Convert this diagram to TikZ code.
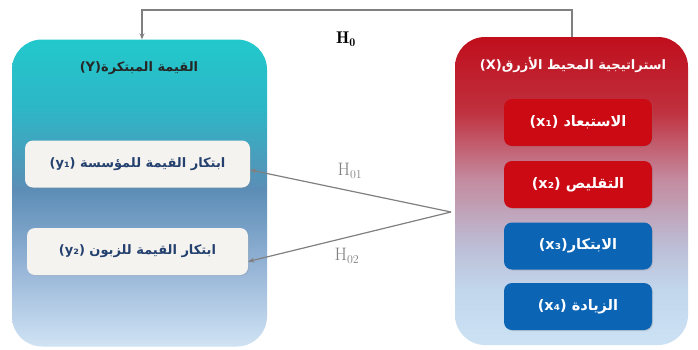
\documentclass[tikz,border=0pt]{standalone}
\usepackage{fontspec}
\usetikzlibrary{arrows.meta,calc,shadows}
\TeXXeTstate=1
\newfontfamily\arabicfont[Script=Arabic]{DejaVu Sans}
\definecolor{Lc1}{HTML}{22C8CC}
\definecolor{Lc2}{HTML}{2EB6C6}
\definecolor{Lc3}{HTML}{5C8DB6}
\definecolor{Lc4}{HTML}{98B6D8}
\definecolor{Lc5}{HTML}{D0E3F4}
\definecolor{Rc1}{HTML}{C00E1C}
\definecolor{Rc2}{HTML}{C0303E}
\definecolor{Rc3}{HTML}{C48A9E}
\definecolor{Rc4}{HTML}{BCBED6}
\definecolor{Rc5}{HTML}{C2D6EC}
\definecolor{Rc6}{HTML}{CCE2F4}
\definecolor{xred}{HTML}{CC0A14}
\definecolor{xblue}{HTML}{0B64B4}
\definecolor{ybox}{HTML}{F5F3EF}
\definecolor{ytext}{HTML}{23406E}
\definecolor{arrowgray}{HTML}{808080}
\pgfdeclareverticalshading{leftsh}{100bp}{color(0bp)=(Lc5); color(25bp)=(Lc5); color(37.5bp)=(Lc4); color(50.5bp)=(Lc3); color(63.5bp)=(Lc2); color(75bp)=(Lc1); color(100bp)=(Lc1)}
\pgfdeclareverticalshading{rightsh}{100bp}{color(0bp)=(Rc6); color(25bp)=(Rc6); color(34bp)=(Rc5); color(41bp)=(Rc4); color(52bp)=(Rc3); color(63bp)=(Rc2); color(75bp)=(Rc1); color(100bp)=(Rc1)}
\begin{document}
\begin{tikzpicture}[x=1pt,y=-1pt,
  bigbox/.style={rounded corners=30pt, minimum width=#1, inner sep=0pt},
  xbox/.style={rounded corners=8pt, fill=#1, minimum width=148pt, minimum height=47pt, inner sep=0pt,
    text=white, font=\arabicfont\bfseries\fontsize{14.5}{16}\selectfont,
    drop shadow={opacity=0.25, shadow xshift=1pt, shadow yshift=-1pt}},
  yboxst/.style={rounded corners=8pt, fill=ybox, minimum height=47pt, inner sep=0pt,
    text=ytext, font=\arabicfont\bfseries\fontsize{13}{15}\selectfont,
    drop shadow={opacity=0.2, shadow xshift=1pt, shadow yshift=-1pt}},
  titlest/.style={font=\arabicfont\bfseries\fontsize{13}{15}\selectfont, inner sep=0pt},
  conn/.style={draw=arrowgray, line width=1.2pt, -{Stealth[length=6pt,width=5pt]}},
  hlab/.style={text=arrowgray, inner sep=0pt, font=\fontsize{18}{20}\selectfont}
]
\useasboundingbox (0,0) rectangle (698,349);
\fill[white] (0,0) rectangle (698,349);
% big boxes
\node[bigbox=255pt, minimum height=307pt, shading=leftsh, shade] (Y) at (139.5,193) {};
\node[bigbox=233pt, minimum height=308pt, shading=rightsh, shade] (X) at (571.5,191) {};
% titles
\node[titlest, text=black!85] (Yt) at (139,68) {\beginR القيمة المبتكرة\beginL(Y)\endL\endR};
\node[titlest, text=white] (Xt) at (573,65) {\beginR استراتيجية المحيط الأزرق\beginL(X)\endL\endR};
% x boxes
\node[xbox=xred] (x1) at (578,122.5) {\beginR الاستبعاد \beginL(x₁)\endL\endR};
\node[xbox=xred] (x2) at (578,184.5) {\beginR التقليص \beginL(x₂)\endL\endR};
\node[xbox=xblue] (x3) at (578,246) {\beginR الابتكار\beginL(x₃)\endL\endR};
\node[xbox=xblue] (x4) at (578,306.5) {\beginR الزيادة \beginL(x₄)\endL\endR};
% y boxes
\node[yboxst, minimum width=225pt] (y1) at (137.5,164) {\beginR ابتكار القيمة للمؤسسة \beginL(y₁)\endL\endR};
\node[yboxst, minimum width=221pt] (y2) at (137.5,251.5) {\beginR ابتكار القيمة للزبون \beginL(y₂)\endL\endR};
% connectors
\coordinate (P) at (451,212);
\coordinate (Ptop) at (572,10);
\coordinate (Ltop) at (142,10);
\draw[conn] (X.north -| Ptop) -- (Ptop) -- (Ltop) -- (Y.north -| Ltop);
\draw[conn] (P) -- ($(y1.east)+(0,6)$);
\draw[conn] (P) -- ($(y2.east)+(0,10)$);
% labels
\node[inner sep=0pt, font=\fontsize{17}{19}\selectfont] (H0) at (346,39) {$\mathbf{H_0}$};
\node[hlab] (H01) at (350,171) {$\mathrm{H}_{01}$};
\node[hlab] (H02) at (347,256) {$\mathrm{H}_{02}$};
\end{tikzpicture}
\end{document}
